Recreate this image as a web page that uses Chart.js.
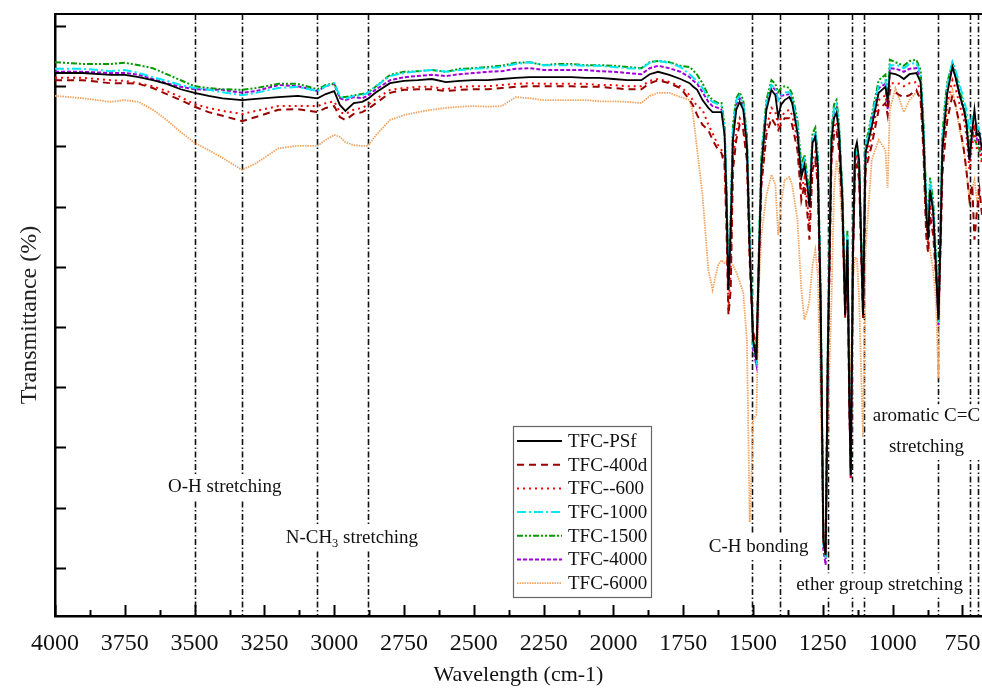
<!DOCTYPE html>
<html>
<head>
<meta charset="utf-8">
<script src="https://cdn.jsdelivr.net/npm/chart.js@4.4.0/dist/chart.umd.min.js"></script>
<style>
  html, body { margin: 0; padding: 0; background: #fff; }
  #wrap { width: 982px; height: 688px; }
</style>
</head>
<body>
<div id="wrap"><canvas id="ftirChart" width="982" height="688"></canvas></div>
<script>
// wavenumbers shared by every spectrum (cm-1)
const wavenumbers = [
  4000, 3900, 3800, 3750, 3700, 3650, 3600, 3550, 3500, 3450,
  3400, 3330, 3280, 3200, 3130, 3060, 3030, 3000, 2980, 2960,
  2930, 2900, 2880, 2850, 2800, 2750, 2700, 2650, 2600, 2550,
  2500, 2450, 2400, 2350, 2300, 2250, 2200, 2150, 2100, 2050,
  2000, 1950, 1900, 1870, 1840, 1800, 1760,
  1727, 1716, 1700, 1681, 1660, 1645, 1625, 1613, 1602, 1595,
  1588, 1580, 1572, 1560, 1548, 1535, 1522, 1512, 1505, 1500,
  1488, 1478, 1470, 1452, 1434, 1420, 1410, 1400, 1387, 1370,
  1360, 1341, 1327, 1316, 1305, 1298, 1287, 1277, 1268, 1258,
  1248, 1240, 1232, 1219, 1210, 1201, 1192, 1180, 1170, 1162,
  1155, 1150, 1142, 1135, 1128, 1120, 1112, 1106, 1100, 1097,
  1075, 1050, 1026, 1018, 1010, 990, 975, 960, 940, 915,
  900, 890, 880, 873, 866, 855, 845, 836, 828, 822,
  810, 804, 786, 775, 760, 745, 736, 725, 715, 707,
  698, 689, 680
];

const tfcPSf = [
  90.2, 90.2, 89.9, 89.9, 89.5, 89.0, 88.4, 87.5, 86.9, 86.4,
  86.0, 85.7, 85.9, 86.2, 86.4, 86.0, 86.7, 87.2, 84.9, 83.9,
  85.2, 85.4, 85.9, 87.0, 88.5, 88.9, 89.0, 89.2, 88.7, 88.9,
  89.0, 89.0, 89.2, 89.4, 89.5, 89.5, 89.5, 89.5, 89.4, 89.4,
  89.2, 89.0, 89.0, 90.0, 90.4, 89.9, 89.2,
  88.5, 88.0, 87.4, 85.7, 84.4, 83.7, 83.7, 83.7, 79.9, 69.1,
  54.2, 64.1, 79.1, 84.1, 85.4, 84.1, 78.2, 60.8, 52.5, 45.8,
  42.5, 60.8, 74.6, 84.1, 87.4, 86.5, 82.9, 84.9, 85.7, 86.2,
  85.2, 80.2, 72.9, 74.9, 71.3, 67.9, 78.6, 79.6, 74.6, 52.5,
  12.6, 10.1, 44.2, 79.1, 82.7, 83.6, 80.2, 69.1, 50.0, 62.5,
  35.9, 23.4, 60.8, 77.4, 78.7, 75.7, 60.8, 50.0, 69.1, 76.9,
  81.2, 86.9, 87.9, 85.7, 90.2, 90.0, 89.7, 89.2, 90.0, 90.2,
  88.7, 80.2, 67.4, 62.5, 70.8, 67.4, 58.3, 49.2, 64.1, 77.4,
  84.1, 86.9, 91.2, 89.5, 86.5, 84.1, 81.9, 75.7, 80.7, 84.1,
  79.9, 80.2, 77.4
];

const tfc400d = [
  89.0, 89.0, 88.5, 88.5, 88.4, 87.7, 86.7, 85.7, 84.6, 83.7,
  83.1, 82.2, 82.9, 84.1, 84.2, 83.7, 84.4, 84.7, 82.9, 82.4,
  83.4, 83.7, 84.2, 85.2, 86.9, 87.4, 87.5, 87.5, 87.2, 87.4,
  87.5, 87.5, 87.7, 87.9, 88.0, 88.0, 88.0, 88.0, 87.9, 87.9,
  87.7, 87.5, 87.5, 88.5, 89.0, 88.5, 87.7,
  85.7, 84.9, 83.2, 81.6, 80.7, 79.1, 77.4, 76.9, 74.9, 64.1,
  50.0, 54.2, 74.1, 79.1, 81.6, 80.7, 75.7, 59.1, 51.7, 47.5,
  44.2, 60.0, 71.6, 79.9, 82.7, 81.6, 80.7, 81.6, 82.7, 82.7,
  81.6, 77.4, 69.1, 71.6, 66.6, 62.5, 74.1, 75.7, 71.6, 50.8,
  12.6, 10.6, 42.5, 75.7, 79.9, 80.7, 77.4, 67.4, 49.5, 59.1,
  34.2, 24.3, 59.1, 74.1, 74.9, 72.4, 59.1, 49.5, 66.6, 74.1,
  78.2, 84.1, 85.2, 83.2, 87.4, 87.0, 86.5, 86.2, 86.5, 87.4,
  85.7, 77.4, 63.3, 60.3, 66.6, 63.3, 56.6, 50.0, 61.6, 73.3,
  79.9, 82.4, 86.5, 84.9, 81.6, 77.4, 74.1, 69.1, 71.6, 62.5,
  67.4, 70.8, 66.6
];

const tfc600 = [
  89.4, 89.4, 89.0, 88.9, 88.5, 88.0, 87.2, 86.2, 85.0, 84.4,
  83.9, 83.4, 83.9, 84.7, 84.7, 84.7, 85.2, 85.5, 83.7, 83.4,
  84.1, 84.4, 84.9, 85.9, 87.4, 87.7, 87.9, 87.9, 87.5, 87.9,
  88.0, 88.0, 88.2, 88.4, 88.5, 88.4, 88.4, 88.4, 88.4, 88.2,
  88.2, 88.0, 88.0, 88.9, 89.2, 88.7, 88.0,
  86.5, 85.7, 84.7, 84.1, 81.6, 80.2, 78.2, 77.4, 75.7, 65.8,
  50.8, 57.5, 75.7, 80.7, 82.7, 81.6, 76.6, 60.0, 52.5, 46.7,
  43.4, 60.8, 72.4, 81.1, 84.4, 83.7, 81.6, 82.7, 83.7, 84.1,
  83.2, 79.1, 70.8, 72.8, 68.3, 65.0, 75.7, 77.1, 72.8, 51.7,
  11.8, 10.1, 43.4, 77.4, 81.1, 82.1, 78.6, 68.3, 50.0, 60.8,
  35.0, 22.9, 60.0, 75.7, 76.6, 74.1, 60.0, 49.8, 67.8, 75.4,
  79.9, 85.7, 86.5, 84.4, 88.5, 88.5, 88.4, 88.0, 88.5, 88.7,
  87.4, 79.1, 65.8, 61.6, 68.3, 65.8, 57.5, 49.5, 63.3, 75.7,
  82.4, 85.2, 89.0, 87.7, 84.9, 82.4, 79.9, 74.1, 78.2, 80.7,
  77.4, 77.7, 74.9
];

const tfc1000 = [
  90.9, 90.9, 90.5, 90.7, 90.2, 89.5, 88.9, 88.2, 87.7, 87.4,
  87.0, 86.5, 86.9, 87.7, 87.9, 87.2, 88.0, 88.5, 86.4, 85.9,
  86.4, 86.5, 86.9, 88.0, 89.7, 90.2, 90.5, 90.7, 90.4, 90.7,
  90.9, 91.0, 91.2, 91.7, 92.0, 91.5, 91.5, 91.5, 91.4, 91.4,
  91.2, 91.0, 90.9, 91.9, 92.2, 91.9, 91.2,
  90.0, 89.5, 88.9, 87.7, 86.0, 85.4, 85.0, 84.7, 81.1, 69.9,
  55.0, 65.8, 80.7, 85.7, 86.4, 85.0, 79.1, 62.5, 53.3, 45.0,
  42.5, 62.5, 75.7, 85.2, 88.2, 87.7, 85.7, 86.5, 87.0, 87.0,
  86.0, 81.6, 74.1, 75.7, 72.1, 69.1, 79.4, 80.4, 75.7, 53.3,
  11.8, 9.6, 45.0, 79.9, 84.4, 85.0, 81.1, 69.9, 51.7, 63.3,
  35.9, 23.9, 61.6, 76.1, 77.4, 74.9, 61.6, 50.5, 69.9, 77.7,
  82.7, 88.2, 89.0, 85.7, 91.5, 91.5, 91.4, 91.0, 91.7, 91.9,
  89.9, 81.6, 69.1, 64.1, 72.4, 68.3, 59.1, 48.8, 65.8, 79.1,
  85.7, 88.2, 92.0, 90.7, 88.2, 85.7, 84.1, 80.7, 83.2, 82.4,
  81.6, 80.7, 79.1
];

const tfc1500 = [
  92.0, 91.7, 91.7, 91.9, 91.5, 91.0, 90.0, 89.0, 88.0, 87.7,
  87.5, 87.4, 87.7, 88.4, 88.4, 87.5, 88.2, 88.5, 86.2, 86.2,
  86.5, 86.7, 86.9, 88.0, 89.9, 90.4, 90.5, 90.7, 90.4, 90.9,
  91.0, 91.2, 91.4, 91.9, 92.0, 91.5, 91.7, 91.7, 91.5, 91.5,
  91.4, 91.2, 91.0, 92.0, 92.2, 92.0, 91.4,
  91.2, 90.7, 89.9, 88.5, 86.5, 85.7, 85.2, 85.2, 81.6, 70.8,
  55.8, 66.6, 81.6, 86.0, 87.0, 85.7, 79.9, 64.1, 54.2, 45.8,
  43.4, 63.3, 76.6, 85.7, 89.0, 88.4, 87.0, 87.7, 88.0, 87.7,
  86.7, 82.4, 74.9, 76.6, 72.8, 69.9, 80.2, 81.1, 76.6, 54.2,
  12.6, 10.0, 45.8, 80.7, 85.0, 85.7, 81.7, 70.8, 52.5, 64.1,
  36.7, 24.3, 62.5, 75.7, 77.1, 74.9, 62.5, 50.8, 70.8, 78.2,
  83.2, 89.0, 89.9, 86.0, 92.4, 92.0, 91.7, 91.4, 92.2, 92.4,
  90.7, 82.4, 69.9, 65.0, 72.8, 69.1, 60.0, 49.5, 66.6, 79.9,
  86.5, 88.7, 91.9, 90.4, 87.4, 84.9, 82.7, 77.4, 80.7, 79.1,
  78.2, 77.4, 75.7
];

const tfc4000 = [
  90.4, 90.4, 90.2, 90.2, 89.9, 89.2, 88.5, 87.9, 87.5, 87.4,
  87.4, 86.9, 87.2, 88.2, 88.0, 87.2, 88.0, 88.4, 86.0, 85.7,
  86.2, 86.0, 86.4, 87.5, 89.0, 89.5, 89.7, 89.9, 89.7, 90.0,
  90.2, 90.4, 90.5, 90.9, 91.0, 90.7, 90.7, 90.7, 90.7, 90.5,
  90.4, 90.2, 90.0, 91.0, 91.4, 91.0, 90.4,
  89.5, 89.0, 88.4, 87.0, 85.4, 84.7, 84.4, 84.1, 80.7, 69.9,
  54.2, 65.0, 79.9, 85.0, 86.0, 84.7, 78.7, 61.6, 52.5, 44.2,
  41.7, 60.8, 74.9, 84.7, 88.0, 87.4, 85.7, 86.4, 86.5, 86.7,
  85.7, 81.1, 73.8, 75.4, 71.6, 68.3, 79.1, 79.9, 74.9, 52.5,
  11.0, 8.5, 43.4, 79.4, 83.7, 84.4, 80.7, 69.4, 50.8, 62.5,
  35.0, 22.9, 60.8, 75.7, 76.6, 74.4, 60.8, 50.0, 69.1, 77.4,
  82.1, 87.7, 88.4, 84.1, 91.0, 90.9, 90.7, 90.4, 90.9, 91.0,
  89.4, 80.7, 68.3, 63.3, 71.1, 67.4, 58.3, 48.3, 65.0, 78.2,
  84.9, 87.7, 91.5, 89.7, 86.5, 84.1, 81.6, 75.7, 79.9, 81.6,
  79.1, 79.1, 76.6
];

const tfc6000 = [
  86.4, 86.0, 85.4, 85.7, 85.4, 84.1, 82.4, 80.4, 78.6, 77.4,
  76.1, 74.1, 75.2, 77.7, 78.1, 78.1, 79.1, 79.9, 79.6, 78.7,
  78.2, 78.1, 78.1, 79.9, 82.4, 83.2, 83.7, 84.1, 84.4, 84.6,
  84.7, 84.6, 84.7, 86.2, 86.0, 85.7, 85.7, 85.7, 85.7, 85.5,
  85.5, 85.4, 85.2, 86.4, 86.9, 86.9, 86.2,
  85.7, 83.7, 77.4, 69.9, 57.5, 54.2, 58.3, 59.1, 58.6, 58.8,
  58.6, 58.6, 58.3, 57.1, 55.5, 53.7, 45.8, 15.6, 24.3, 32.6,
  33.4, 55.8, 63.3, 69.9, 73.3, 71.6, 63.3, 68.3, 72.4, 72.9,
  71.6, 65.8, 54.2, 49.2, 50.8, 52.5, 58.3, 60.8, 56.6, 35.9,
  15.9, 11.3, 32.6, 52.5, 70.8, 75.7, 73.3, 64.1, 50.8, 52.5,
  44.2, 39.2, 55.8, 59.5, 59.5, 52.5, 39.2, 29.7, 47.5, 60.8,
  75.7, 79.1, 77.4, 71.1, 84.1, 87.7, 85.7, 83.7, 85.7, 87.0,
  86.2, 79.1, 67.4, 62.5, 60.8, 57.5, 52.5, 39.5, 64.1, 77.4,
  82.4, 84.9, 87.4, 84.9, 80.7, 77.4, 74.1, 69.1, 70.8, 72.4,
  69.1, 69.9, 68.3
];

const seriesNames = ["TFC-PSf", "TFC-400d", "TFC--600", "TFC-1000", "TFC-1500", "TFC-4000", "TFC-6000"];
const seriesValues = [tfcPSf, tfc400d, tfc600, tfc1000, tfc1500, tfc4000, tfc6000];
const seriesColors = ["#000000", "#990000", "#ff0000", "#00e8f8", "#009a00", "#a000d8", "#f4a460"];
const seriesDashes = [[], [7, 5], [2, 4], [9, 3, 2, 3], [6, 2, 2, 2, 2, 2], [4, 2], [1.5, 1]];
const seriesWidths = [1.8, 2, 2, 2, 2, 2, 1.8];

// dash-dot guide lines at the assigned bands (cm-1)
const bandLines = [3500, 3330, 3060, 2880, 1505, 1405, 1233, 1147, 1101, 836, 722, 693];

// band labels, anchored in data units (cm-1, %); "_" marks a subscript part
const bandLabels = [
  { lines: [["O-H stretching"]], at: [3392, 21.4] },
  { lines: [["N-CH", "_3", " stretching"]], at: [2937, 13.0] },
  { lines: [["C-H bonding"]], at: [1480, 11.5] },
  { lines: [["ether group stretching"]], at: [1047, 5.1] },
  { lines: [["aromatic C=C"], ["stretching"]], at: [879, 33.2] }
];

const yTickMarks = [8, 18, 28, 38, 48, 58, 68, 78, 88, 98];
const serif = "'Liberation Serif', 'Times New Roman', serif";

const datasets = seriesNames.map((name, i) => ({
  label: name,
  data: wavenumbers.map((w, j) => ({ x: w, y: seriesValues[i][j] })),
  borderColor: seriesColors[i],
  borderDash: seriesDashes[i],
  borderWidth: seriesWidths[i],
  pointRadius: 0,
  fill: false,
  tension: 0
}));

function partsWidth(ctx, parts, size) {
  let w = 0;
  parts.forEach(p => {
    const sub = p.startsWith("_");
    ctx.font = (sub ? size * 0.65 : size) + "px " + serif;
    w += ctx.measureText(sub ? p.slice(1) : p).width;
  });
  return w;
}

const ftirDecor = {
  id: "ftirDecor",
  beforeDatasetsDraw(chart) {
    const { ctx, chartArea: a, scales: { x, y } } = chart;
    ctx.save();
    // guide lines
    ctx.strokeStyle = "#111";
    ctx.lineWidth = 1.6;
    ctx.setLineDash([6, 2.5, 1.5, 2.5]);
    bandLines.forEach(w => {
      const px = Math.round(x.getPixelForValue(w)) + 0.5;
      ctx.beginPath();
      ctx.moveTo(px, a.top);
      ctx.lineTo(px, a.bottom);
      ctx.stroke();
    });
    ctx.setLineDash([]);
    // labels with a white backing that breaks the guide lines
    const size = 19, lineH = 31;
    bandLabels.forEach(lab => {
      const cx = x.getPixelForValue(lab.at[0]);
      const cy = y.getPixelForValue(lab.at[1]);
      const widths = lab.lines.map(l => partsWidth(ctx, l, size));
      const maxW = Math.max(...widths);
      const boxH = lab.lines.length * lineH - (lineH - 24);
      ctx.fillStyle = "#fff";
      ctx.fillRect(cx - maxW / 2 - 3, cy - 12, maxW + 6, boxH);
      ctx.fillStyle = "#111";
      ctx.textBaseline = "middle";
      ctx.textAlign = "left";
      lab.lines.forEach((parts, li) => {
        let tx = cx - widths[li] / 2;
        const ty = cy + li * lineH;
        parts.forEach(p => {
          const sub = p.startsWith("_");
          const txt = sub ? p.slice(1) : p;
          ctx.font = (sub ? size * 0.65 : size) + "px " + serif;
          ctx.fillText(txt, tx, sub ? ty + size * 0.3 : ty);
          tx += ctx.measureText(txt).width;
        });
      });
    });
    ctx.restore();
  },
  afterDatasetsDraw(chart) {
    const { ctx, chartArea: a, scales: { x, y } } = chart;
    ctx.save();
    ctx.strokeStyle = "#000";
    // top frame
    ctx.lineWidth = 2;
    ctx.beginPath();
    ctx.moveTo(a.left, a.top);
    ctx.lineTo(a.right, a.top);
    ctx.stroke();
    // inward tick marks, x major + minor
    ctx.lineWidth = 2;
    x.ticks.forEach(t => {
      const px = Math.round(x.getPixelForValue(t.value)) + 0.5;
      ctx.beginPath();
      ctx.moveTo(px, a.bottom);
      ctx.lineTo(px, a.bottom - 11);
      ctx.stroke();
      const m = t.value - 125;
      if (m >= x.min) {
        const pm = Math.round(x.getPixelForValue(m)) + 0.5;
        ctx.beginPath();
        ctx.moveTo(pm, a.bottom);
        ctx.lineTo(pm, a.bottom - 6);
        ctx.stroke();
      }
    });
    yTickMarks.forEach(v => {
      const py = Math.round(y.getPixelForValue(v)) + 0.5;
      ctx.beginPath();
      ctx.moveTo(a.left, py);
      ctx.lineTo(a.left + 11, py);
      ctx.stroke();
    });
    // legend box
    const lx = 513, ly = 426, lw = 138, lh = 171, row = 23.7;
    ctx.fillStyle = "#fff";
    ctx.fillRect(lx, ly, lw, lh);
    ctx.lineWidth = 1.2;
    ctx.strokeStyle = "#666";
    ctx.strokeRect(lx + 0.5, ly + 0.5, lw, lh);
    chart.data.datasets.forEach((ds, i) => {
      const ry = ly + 15 + i * row;
      ctx.strokeStyle = ds.borderColor;
      ctx.lineWidth = ds.borderWidth;
      ctx.setLineDash(ds.borderDash);
      ctx.beginPath();
      ctx.moveTo(lx + 4, ry);
      ctx.lineTo(lx + 49, ry);
      ctx.stroke();
      ctx.setLineDash([]);
      ctx.fillStyle = "#111";
      ctx.font = "19px " + serif;
      ctx.textBaseline = "middle";
      ctx.textAlign = "left";
      ctx.fillText(ds.label, lx + 55, ry + 1);
    });
    ctx.restore();
  }
};

const ftirChart = new Chart(document.getElementById("ftirChart").getContext("2d"), {
  type: "line",
  data: { datasets },
  plugins: [ftirDecor],
  options: {
    responsive: false,
    animation: false,
    devicePixelRatio: 1,
    layout: { padding: { top: 14, left: 0, right: 0, bottom: 0 } },
    plugins: {
      legend: { display: false },
      tooltip: { enabled: false }
    },
    scales: {
      x: {
        type: "linear",
        reverse: true,
        min: 680,
        max: 4000,
        grid: { display: false, drawTicks: false },
        border: { display: true, color: "#000", width: 2.5 },
        ticks: {
          stepSize: 250,
          includeBounds: false,
          autoSkip: false,
          maxRotation: 0,
          padding: 13,
          color: "#111",
          font: { family: serif, size: 24 },
          callback: (value) => String(value)
        },
        title: {
          display: true,
          text: "Wavelength (cm-1)",
          color: "#111",
          font: { family: serif, size: 22 },
          padding: 0
        },
        afterFit(scale) {
          scale.height = 72;
          scale.paddingLeft = 0;
          scale.paddingRight = 0;
        }
      },
      y: {
        type: "linear",
        min: 0,
        max: 100,
        grid: { display: false, drawTicks: false },
        border: { display: true, color: "#000", width: 2.5 },
        ticks: { display: false },
        afterBuildTicks(scale) {
          scale.ticks = yTickMarks.map(v => ({ value: v }));
        },
        title: {
          display: true,
          text: "Transmittance (%)",
          color: "#222",
          font: { family: serif, size: 24 },
          padding: { top: 15, bottom: 0 }
        },
        afterFit(scale) {
          scale.width = 55;
        }
      }
    }
  }
});
</script>
</body>
</html>
